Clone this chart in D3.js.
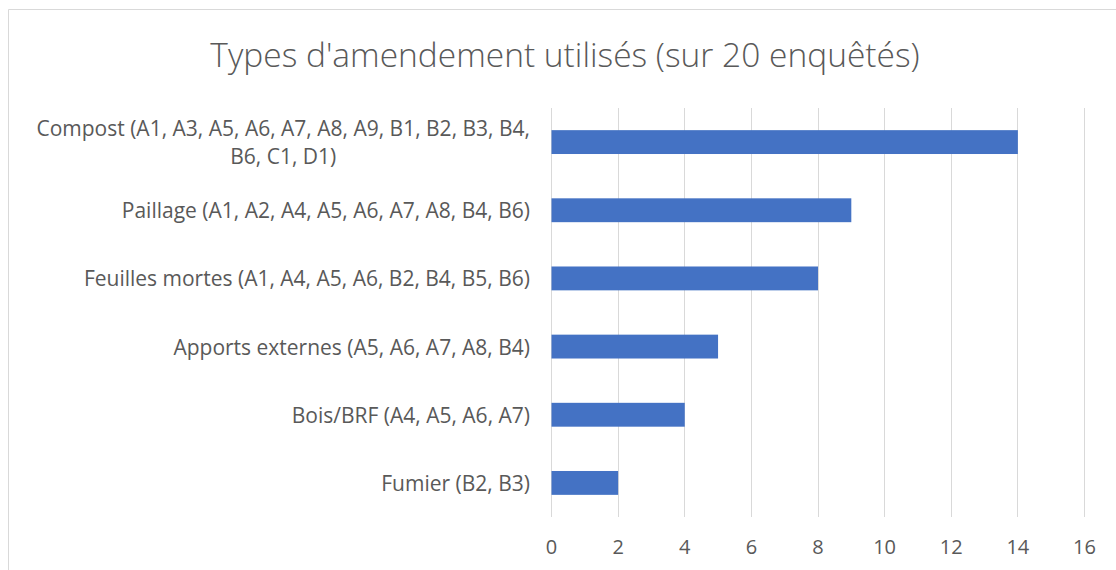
<!DOCTYPE html>
<html><head><meta charset="utf-8">
<script src="https://cdn.jsdelivr.net/npm/d3@7"></script>
<style>
html,body{margin:0;padding:0;background:#fff;}
svg{display:block;}
text{font-family:"Open Sans",sans-serif;fill:#595959;}
</style></head>
<body>
<svg id="chart" width="1116" height="570"></svg>
<script>
const title = "Types d'amendement utilisés (sur 20 enquêtés)";
const categories = [
  "Compost (A1, A3, A5, A6, A7, A8, A9, B1, B2, B3, B4, B6, C1, D1)",
  "Paillage (A1, A2, A4, A5, A6, A7, A8, B4, B6)",
  "Feuilles mortes (A1, A4, A5, A6, B2, B4, B5, B6)",
  "Apports externes (A5, A6, A7, A8, B4)",
  "Bois/BRF (A4, A5, A6, A7)",
  "Fumier (B2, B3)"
];
const values = [14, 9, 8, 5, 4, 2];
const xTicks = [0, 2, 4, 6, 8, 10, 12, 14, 16];

const svg = d3.select("#chart");
const W = 1116, H = 570;
const m = {left: 551, right: 1084, top: 108, bottom: 517};

// outer border (partially visible as in reference)
svg.append("path")
  .attr("d", `M8.5,${H} L8.5,9.5 L${W},9.5`)
  .attr("fill","none").attr("stroke","#d9d9d9").attr("stroke-width",1);

svg.append("text")
  .attr("x", 565).attr("y", 54)
  .attr("text-anchor","middle").attr("dominant-baseline","central")
  .style("font-size","33.5px").style("font-weight","300")
  .text(title);

const x = d3.scaleLinear().domain([0,16]).range([m.left, m.right]);
const y = d3.scaleBand().domain(categories).range([m.top, m.bottom]).paddingInner(0.65).paddingOuter(0.325);

// gridlines
svg.append("g").selectAll("line").data(xTicks).join("line")
  .attr("x1", d=>Math.round(x(d))+0.5).attr("x2", d=>Math.round(x(d))+0.5)
  .attr("y1", m.top).attr("y2", m.bottom)
  .attr("stroke","#d9d9d9").attr("stroke-width",1);

// bars
svg.append("g").selectAll("rect").data(categories).join("rect")
  .attr("x", x(0)+0.5)
  .attr("y", d=>y(d))
  .attr("width", (d,i)=>x(values[i])-x(0))
  .attr("height", y.bandwidth())
  .attr("fill","#4472c4");

// x axis labels
const xAxis = d3.axisBottom(x).tickValues(xTicks).tickSize(0).tickPadding(0);
const gx = svg.append("g").attr("transform", `translate(0,${m.bottom+29})`).call(xAxis);
gx.select(".domain").remove();
gx.selectAll("text").style("font-size","20px").attr("fill","#595959")
  .attr("font-family",null).attr("dy",null).attr("dominant-baseline","central");

// category labels with wrapping
const maxW = 520, lineH = 28, labelX = 530, fs = "21px";
const gy = svg.append("g");
categories.forEach(c => {
  const cy = y(c) + y.bandwidth()/2;
  const t = gy.append("text").style("font-size",fs).attr("text-anchor","middle");
  const words = c.split(" ");
  let lines = [], cur = "";
  const probe = gy.append("text").style("font-size",fs);
  words.forEach(w => {
    const test = cur ? cur + " " + w : w;
    probe.text(test);
    if (probe.node().getComputedTextLength() > maxW && cur) { lines.push(cur); cur = w; }
    else cur = test;
  });
  lines.push(cur);
  let widths = lines.map(l => { probe.text(l); return probe.node().getComputedTextLength(); });
  probe.remove();
  const maxLine = d3.max(widths);
  const cx = labelX - maxLine/2;
  lines.forEach((l,i) => {
    t.append("tspan").attr("x", cx)
      .attr("y", cy + (i - (lines.length-1)/2) * lineH)
      .attr("dominant-baseline","central")
      .text(l);
  });
});
</script>
</body></html>
